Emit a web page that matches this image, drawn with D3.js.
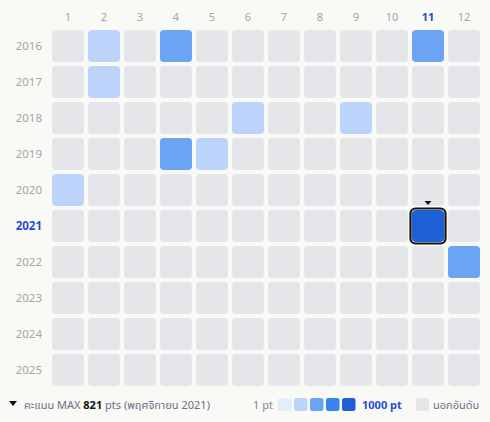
<!DOCTYPE html>
<html><head><meta charset="utf-8">
<script src="https://cdn.jsdelivr.net/npm/d3@7"></script>
<style>
html,body{margin:0;padding:0;background:#f9f9f6;}
svg{display:block;font-family:"Noto Sans","Noto Sans Thai",sans-serif;}
</style></head>
<body>
<svg id="chart" width="490" height="422"></svg>
<script>
const months = ["1","2","3","4","5","6","7","8","9","10","11","12"];
const years = ["2016","2017","2018","2019","2020","2021","2022","2023","2024","2025"];
// points per [year, month]; cells not listed are out of ranking
const scores = [
  ["2016","2",260],["2016","4",520],["2016","11",520],
  ["2017","2",260],
  ["2018","6",260],["2018","9",260],
  ["2019","4",520],["2019","5",260],
  ["2020","1",260],
  ["2021","11",821],
  ["2022","12",520]
];
const maxYear = "2021", maxMonth = "11", maxValue = 821;
const palette = ["#e3edfd","#bcd4fb","#6ba3f5","#3b82f0","#1e5fd6"];
const emptyColor = "#e5e6ea";
const maxText = ["คะแนน MAX ", "821", " pts (พฤศจิกายน 2021)"];
const legendLow = "1 pt", legendHigh = "1000 pt", legendOut = "นอกอันดับ";

const svg = d3.select("#chart");
const x = d3.scaleBand().domain(months).range([52,480]).paddingInner(4/36).paddingOuter(0);
const y = d3.scaleBand().domain(years).range([30,386]).paddingInner(4/36).paddingOuter(0);
const color = d3.scaleQuantize().domain([1,1000]).range(palette);
const lookup = new Map(scores.map(d => [d[0]+"-"+d[1], d[2]]));

const cells = [];
years.forEach(yr => months.forEach(m => cells.push({yr, m, v: lookup.get(yr+"-"+m)})));

svg.append("g").selectAll("rect").data(cells).join("rect")
  .attr("x", d => x(d.m)).attr("y", d => y(d.yr))
  .attr("width", x.bandwidth()).attr("height", y.bandwidth())
  .attr("rx", 4).attr("ry", 4)
  .attr("fill", d => d.v == null ? emptyColor : color(d.v));

// highlight
const hx = x(maxMonth), hy = y(maxYear);
svg.append("rect").attr("x", hx-1.5).attr("y", hy-1.5)
  .attr("width", x.bandwidth()+3).attr("height", y.bandwidth()+3)
  .attr("rx",5).attr("ry",5).attr("fill","none").attr("stroke","#111").attr("stroke-width",2.2);
const cx = hx + x.bandwidth()/2;
svg.append("path").attr("d", `M${cx-3.5},${hy-9}L${cx+3.5},${hy-9}L${cx},${hy-5}Z`).attr("fill","#111");

// column labels
svg.append("g").selectAll("text").data(months).join("text")
  .attr("x", d => x(d) + x.bandwidth()/2).attr("y", 21)
  .attr("text-anchor","middle").attr("font-size",11)
  .attr("font-weight", d => d===maxMonth ? 700 : 400)
  .attr("fill", d => d===maxMonth ? "#1d4ed8" : "#a8a2a6")
  .text(d => d);

// row labels
svg.append("g").selectAll("text").data(years).join("text")
  .attr("x", 42).attr("y", d => y(d) + y.bandwidth()/2)
  .attr("dy","0.35em").attr("text-anchor","end").attr("font-size",11.5)
  .attr("font-weight", d => d===maxYear ? 700 : 400)
  .attr("fill", d => d===maxYear ? "#1d4ed8" : "#a8a2a6")
  .text(d => d);

// legend left
const ly = 405;
svg.append("path").attr("d", `M9,${ly-4}L17,${ly-4}L13,${ly+1}Z`).attr("fill","#111");
const t = svg.append("text").attr("x",24).attr("y",ly+4).attr("font-size",11).attr("fill","#6b6f86");
t.append("tspan").text(maxText[0]);
t.append("tspan").attr("font-weight",700).attr("fill","#111").text(maxText[1]);
t.append("tspan").text(maxText[2]);

// legend right
svg.append("text").attr("x",253).attr("y",ly+4).attr("font-size",11).attr("fill","#8a8590").text(legendLow);
svg.append("g").selectAll("rect").data(palette).join("rect")
  .attr("x",(d,i)=>278+i*16).attr("y",ly-7).attr("width",13.5).attr("height",13)
  .attr("rx",2.5).attr("fill",d=>d);
svg.append("text").attr("x",362).attr("y",ly+4).attr("font-size",11).attr("font-weight",700).attr("fill","#1d4ed8").text(legendHigh);
svg.append("rect").attr("x",416).attr("y",ly-7).attr("width",13).attr("height",13).attr("rx",2.5).attr("fill",emptyColor);
svg.append("text").attr("x",433).attr("y",ly+4).attr("font-size",11).attr("fill","#6b6f86").text(legendOut);
</script>
</body></html>
